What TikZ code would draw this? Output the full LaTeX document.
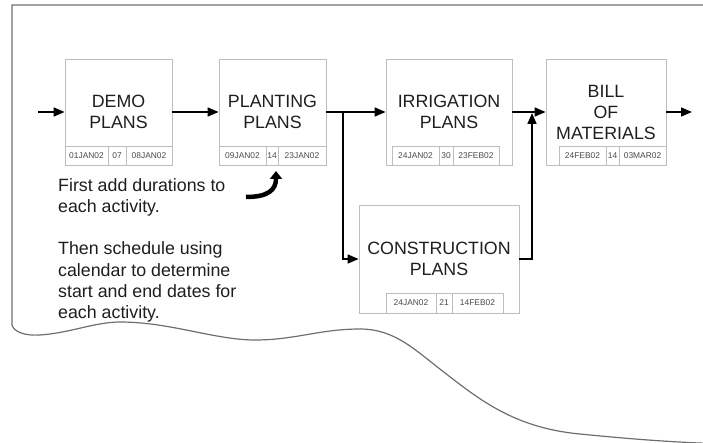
\documentclass[tikz,border=0pt]{standalone}
\usepackage{fontspec}
\setmainfont{Liberation Sans}
\usetikzlibrary{arrows.meta}
\definecolor{boxgray}{HTML}{BDBDBD}
\definecolor{edgegray}{HTML}{6E6E6E}
\definecolor{ink}{HTML}{1E1E1E}
\definecolor{dateink}{HTML}{4A4A4A}
\begin{document}
\begin{tikzpicture}[x=1pt, y=-1pt, >={Triangle[length=11pt,width=9pt]},
	box/.style={draw=boxgray, line width=0.8pt, minimum height=106pt, align=center, inner sep=0pt, text=ink, font=\fontsize{17.8}{21}\selectfont},
	cell/.style={draw=boxgray, line width=0.8pt, minimum height=19pt, inner sep=0pt, text=dateink, font=\fontsize{8.4}{10}\selectfont},
	flow/.style={line width=1.6pt}]
	\useasboundingbox (0,0) rectangle (703,443);
	% torn page
	\draw[edgegray, line width=1.2pt] (712,5) -- (12,5) -- (12,325)
		.. controls (14,332) and (25,336) .. (40,335)
		.. controls (70,333) and (95,322) .. (120,322)
		.. controls (170,322) and (215,340) .. (255,340)
		.. controls (295,340) and (320,329) .. (360,329)
		.. controls (395,329) and (415,350) .. (445,373)
		.. controls (480,400) and (515,428) .. (580,434)
		.. controls (630,439) and (670,442) .. (712,443.5);
	% activities
	\node[box, minimum width=107pt] (D) at (118.5,112) {DEMO\\PLANS};
	\node[box, minimum width=107pt] (P) at (272.5,112) {PLANTING\\PLANS};
	\node[box, minimum width=126pt] (I) at (449,112) {IRRIGATION\\PLANS};
	\node[box, minimum width=120pt] (B) at (606,112) {BILL\\OF\\MATERIALS};
	\node[box, minimum width=160pt, minimum height=108pt] (C) at (439,259) {CONSTRUCTION\\PLANS};
	% dates
	\node[cell, minimum width=43pt] (D1) at (86.5,155.5) {01JAN02};
	\node[cell, minimum width=18pt] (D2) at (117,155.5) {07};
	\node[cell, minimum width=46pt] (D3) at (149,155.5) {08JAN02};
	\node[cell, minimum width=47pt] (P1) at (242.5,155.5) {09JAN02};
	\node[cell, minimum width=12pt] (P2) at (272,155.5) {14};
	\node[cell, minimum width=48pt] (P3) at (302,155.5) {23JAN02};
	\node[cell, minimum width=47pt] (I1) at (415.5,155.5) {24JAN02};
	\node[cell, minimum width=14pt] (I2) at (446,155.5) {30};
	\node[cell, minimum width=46pt] (I3) at (476,155.5) {23FEB02};
	\node[cell, minimum width=47pt] (B1) at (582.5,155.5) {24FEB02};
	\node[cell, minimum width=13pt] (B2) at (612.5,155.5) {14};
	\node[cell, minimum width=47pt] (B3) at (642.5,155.5) {03MAR02};
	\node[cell, minimum width=50pt, minimum height=20pt] (C1) at (411,303) {24JAN02};
	\node[cell, minimum width=16pt, minimum height=20pt] (C2) at (444,303) {21};
	\node[cell, minimum width=51pt, minimum height=20pt] (C3) at (477.5,303) {14FEB02};
	% notes
	\node[anchor=north west, align=left, inner sep=0pt, text=ink, font=\fontsize{17.8}{21.3}\selectfont] (N) at (58,178) {First add durations to\\each activity.\\[21.3pt]Then schedule using\\calendar to determine\\start and end dates for\\each activity.};
	% links
	\coordinate (in) at (38,112);
	\coordinate (split) at (343,112);
	\coordinate (join) at (532,113);
	\coordinate (out) at (692,112);
	\coordinate (tail) at (246,197);
	\coordinate (tip) at (276,171);
	\draw[flow, ->] (in) -- (D);
	\draw[flow, ->] (D) -- (P);
	\draw[flow, ->] (P) -- (I);
	\draw[flow, ->] (split) |- (C);
	\draw[flow, ->] (C) -| (join);
	\draw[flow, ->] (I) -- (B);
	\draw[flow, ->] (B) -- (out);
	\draw[line width=4.5pt, -{Triangle[length=8pt,width=12pt]}] (tail) .. controls (268,197) and (276,190) .. (tip);
\end{tikzpicture}
\end{document}
